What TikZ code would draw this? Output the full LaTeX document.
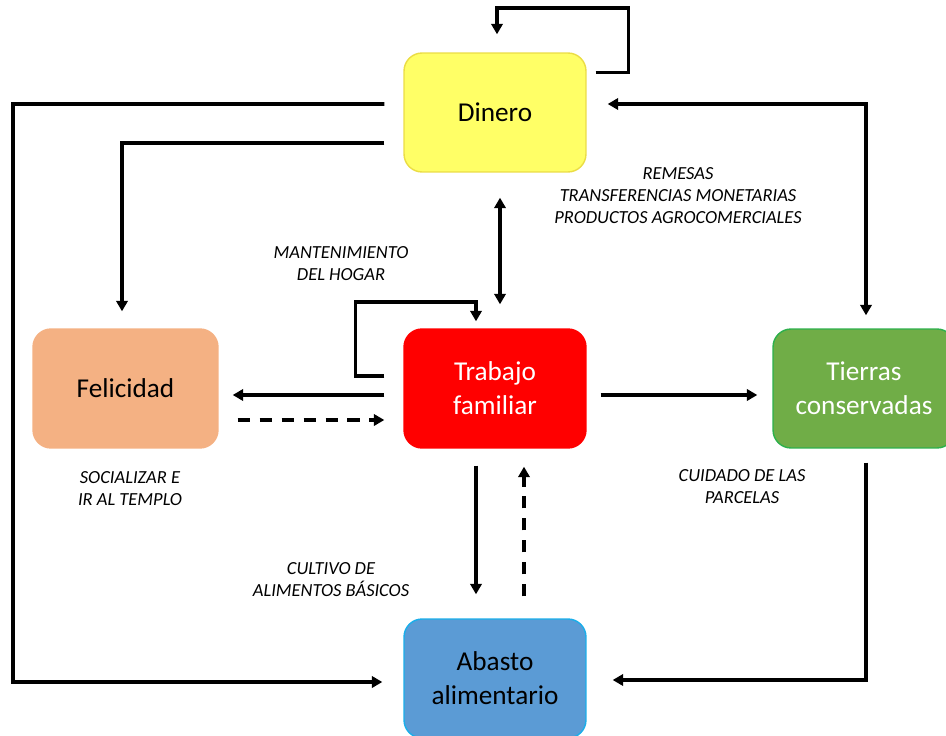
\documentclass[tikz,border=0pt]{standalone}
\usepackage{fontspec}
\setmainfont{Carlito}
\usetikzlibrary{arrows.meta,calc}

\definecolor{dineroFill}{HTML}{FFFF66}
\definecolor{dineroLine}{HTML}{EBDD45}
\definecolor{felicidadFill}{HTML}{F4B183}
\definecolor{tierrasFill}{HTML}{70AD47}
\definecolor{tierrasLine}{HTML}{2DB04C}
\definecolor{abastoFill}{HTML}{5B9BD5}
\definecolor{abastoLine}{HTML}{1AAEEA}

\tikzset{
  box/.style={rectangle, rounded corners=0.36cm, minimum width=3.64cm, minimum height=2.38cm,
    align=center, font=\fontsize{15.5}{19.5}\selectfont, line width=0.8pt},
  arr/.style={line width=2pt, -{Triangle[length=6pt,width=6.5pt]}},
  arrboth/.style={line width=2pt, {Triangle[length=6pt,width=6.5pt]}-{Triangle[length=6pt,width=6.5pt]}},
  dash line/.style={dash pattern=on 7pt off 5.5pt},
  flowlabel/.style={align=center, font=\fontsize{10.5}{12.5}\selectfont\itshape}
}

\begin{document}
\begin{tikzpicture}[x=0.02cm,y=-0.02cm]
    % Frame: same size as the reference picture (pixel units)
    \useasboundingbox (0,0) rectangle (946,736);
    \clip (0,0) rectangle (946,736);

    % Boxes:
    \node [box, fill=dineroFill, draw=dineroLine] (dinero) at (495,112.5) {Dinero};
    \node [box, fill=red, draw=red, text=white] (trabajo) at (495,388.5) {Trabajo\\familiar};
    \node [box, fill=felicidadFill, draw=felicidadFill, minimum width=3.7cm] (felicidad) at (125.5,388.5) {Felicidad};
    \node [box, fill=tierrasFill, draw=tierrasLine, text=white] (tierras) at (864,388.5) {Tierras\\conservadas};
    \node [box, fill=abastoFill, draw=abastoLine] (abasto) at (495,678.5) {Abasto\\alimentario};

    % Connectors from Dinero:
    % the loop on top comes back into the box
    \draw [arr] ($(dinero.east)+(9,-40)$) -- ++(33,0) |- (497,8) -- ($(dinero.north)+(2,-18)$);
    \draw [arr] ($(dinero.west)+(-19,-8.5)$) -| (13,682) -- ($(abasto.west)+(-21,3.5)$);
    \draw [arr] ($(dinero.west)+(-19,30.5)$) -| ($(felicidad.north)+(-3.5,-17)$);
    \draw [arrboth] ($(dinero.east)+(21,-8.5)$) -| ($(tierras.north)+(2,-13)$);
    \draw [arrboth] ($(dinero.south)+(5,25)$) -- ($(trabajo.north)+(5,-24)$);

    % Connectors from Trabajo familiar:
    \draw [arr] ($(trabajo.west)+(-19,-12.5)$) -- ++(-29,0) |- (476,302) -- ($(trabajo.north)+(-19,-7)$);
    \draw [arr] ($(trabajo.west)+(-19,6.5)$) -- ($(felicidad.east)+(14,6.5)$);
    \draw [arr, dash line] ($(felicidad.east)+(19,31.5)$) -- ($(trabajo.west)+(-19,31.5)$);
    \draw [arr] ($(trabajo.east)+(14,6.5)$) -- ($(tierras.west)+(-15,6.5)$);
    \draw [arr] ($(trabajo.south)+(-19,17)$) -- ($(abasto.north)+(-19,-24)$);
    \draw [arr, dash line] ($(abasto.north)+(29,-22)$) -- ($(trabajo.south)+(29,18)$);

    % Tierras conservadas back to Abasto alimentario:
    \draw [arr] ($(tierras.south)+(2,14)$) |- ($(abasto.east)+(26,1.5)$);

    % Labels of the flows:
    \node [flowlabel] (remesas) at (678,196) {REMESAS\\TRANSFERENCIAS MONETARIAS\\PRODUCTOS AGROCOMERCIALES};
    \node [flowlabel] (hogar) at (341,263.5) {MANTENIMIENTO\\DEL HOGAR};
    \node [flowlabel] (templo) at (130,489) {SOCIALIZAR E\\IR AL TEMPLO};
    \node [flowlabel] (parcelas) at (742,487) {CUIDADO DE LAS\\PARCELAS};
    \node [flowlabel] (cultivo) at (331,580) {CULTIVO DE\\ALIMENTOS BÁSICOS};
\end{tikzpicture}
\end{document}
